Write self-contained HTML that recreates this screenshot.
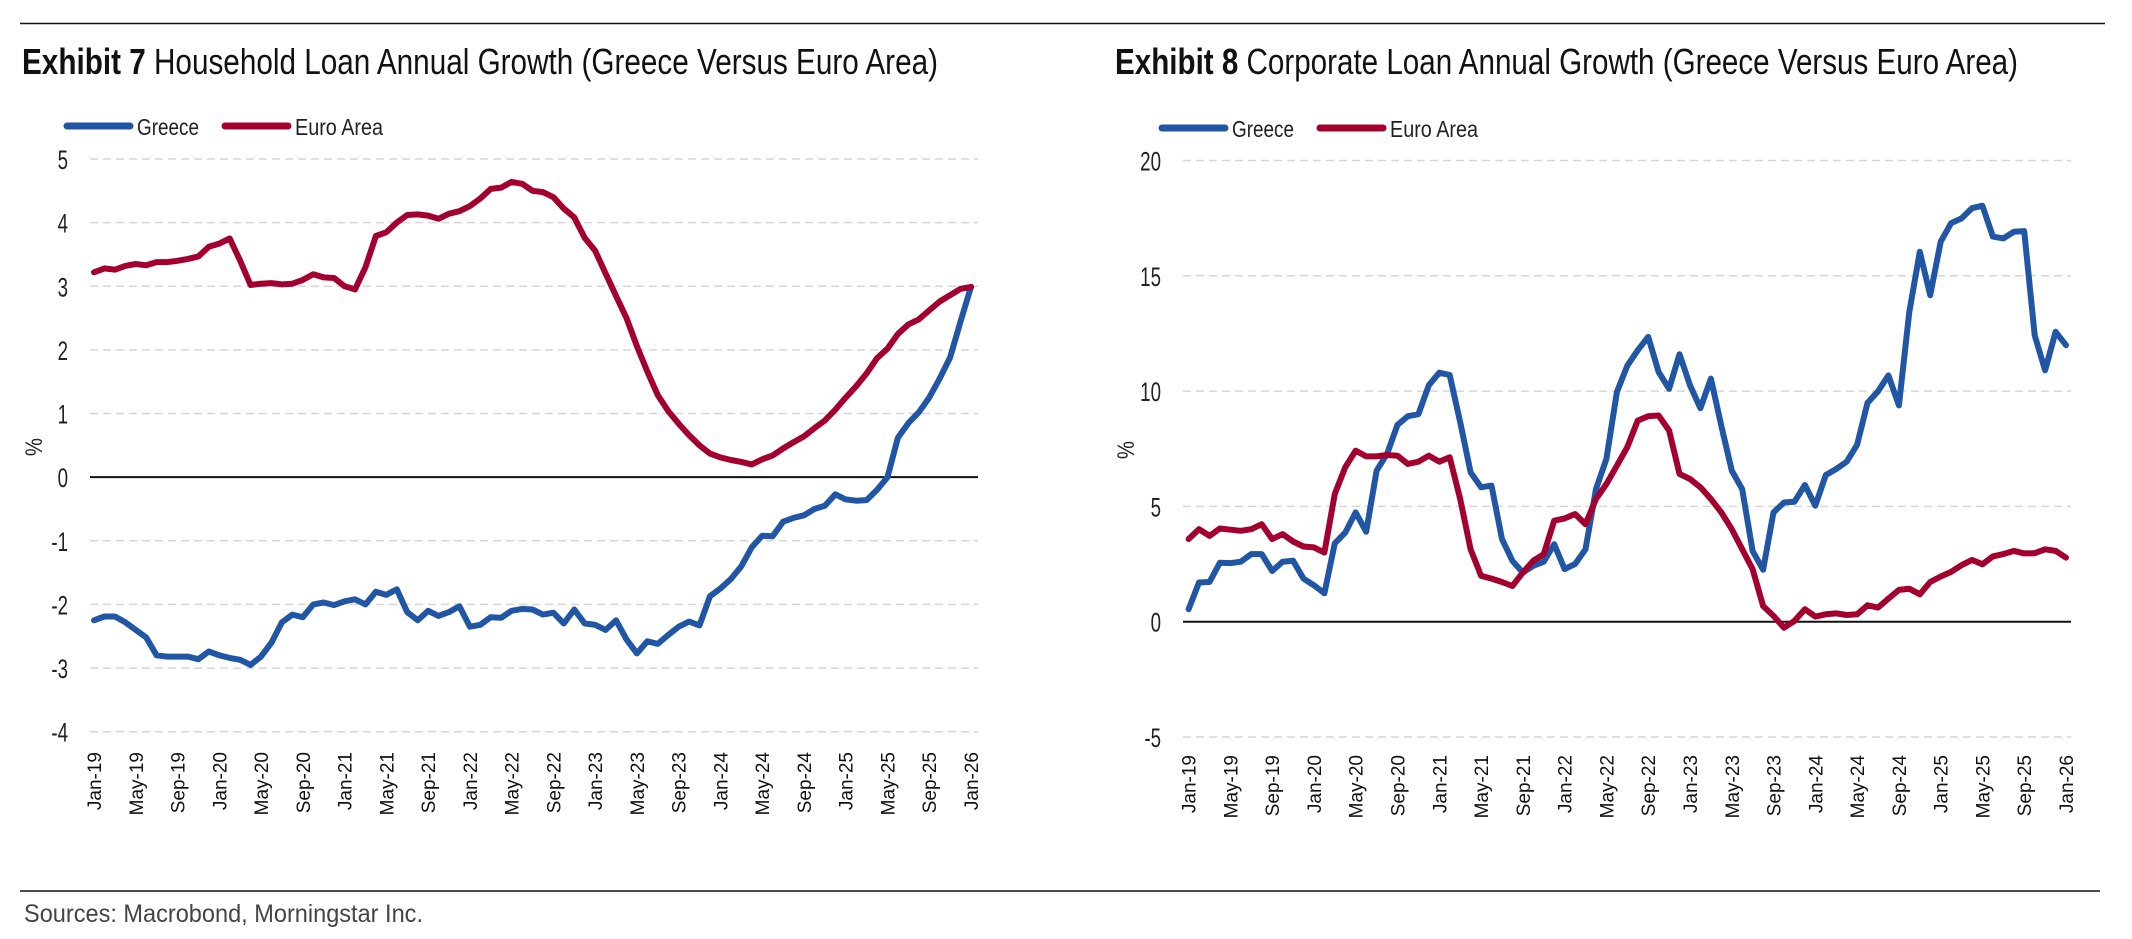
<!DOCTYPE html>
<html><head><meta charset="utf-8"><style>
html,body{margin:0;padding:0;background:#fff;}
svg{display:block;}
.cond{font-family:"Liberation Sans Narrow","Liberation Sans",sans-serif;}
.tick{font-family:"Liberation Sans Narrow","Liberation Sans",sans-serif;font-size:24px;fill:#222;}
.xl{font-family:"Liberation Sans",Arial,sans-serif;font-size:19px;fill:#111;}
</style></head><body>
<svg id="root" width="2132" height="939" viewBox="0 0 2132 939" xmlns="http://www.w3.org/2000/svg">
<line x1="20" y1="23.5" x2="2105" y2="23.5" stroke="#111" stroke-width="1.5"/>
<line x1="20" y1="891" x2="2100" y2="891" stroke="#111" stroke-width="1.5"/>
<text x="22" y="74" font-size="36" class="cond" textLength="916" lengthAdjust="spacingAndGlyphs" fill="#111"><tspan font-weight="bold">Exhibit 7</tspan> Household Loan Annual Growth (Greece Versus Euro Area)</text>
<text x="1115" y="74" font-size="36" class="cond" textLength="903" lengthAdjust="spacingAndGlyphs" fill="#111"><tspan font-weight="bold">Exhibit 8</tspan> Corporate Loan Annual Growth (Greece Versus Euro Area)</text>
<text x="24" y="922" font-size="25" class="cond" textLength="399" lengthAdjust="spacingAndGlyphs" fill="#444">Sources: Macrobond, Morningstar Inc.</text>
<g id="c1"></g>
<g id="c2"></g>
</svg>
<script>
const months = ["Jan-19","May-19","Sep-19","Jan-20","May-20","Sep-20","Jan-21","May-21","Sep-21","Jan-22","May-22","Sep-22","Jan-23","May-23","Sep-23","Jan-24","May-24","Sep-24","Jan-25","May-25","Sep-25","Jan-26"];
const hhTicks = [5,4,3,2,1,0,-1,-2,-3,-4];
const corpTicks = [20,15,10,5,0,-5];
const hhGreece = [-2.25,-2.19,-2.19,-2.28,-2.40,-2.52,-2.80,-2.82,-2.82,-2.82,-2.86,-2.74,
-2.80,-2.84,-2.87,-2.95,-2.82,-2.60,-2.28,-2.16,-2.20,-2.00,-1.97,-2.01,
-1.95,-1.92,-2.00,-1.80,-1.85,-1.76,-2.12,-2.25,-2.10,-2.18,-2.12,-2.03,
-2.35,-2.32,-2.20,-2.21,-2.10,-2.07,-2.08,-2.16,-2.13,-2.30,-2.08,-2.30,
-2.32,-2.40,-2.25,-2.55,-2.77,-2.58,-2.62,-2.48,-2.35,-2.27,-2.33,-1.87,
-1.75,-1.60,-1.40,-1.10,-0.92,-0.93,-0.70,-0.64,-0.60,-0.50,-0.45,-0.27,
-0.35,-0.37,-0.36,-0.20,0.0,0.62,0.85,1.02,1.25,1.55,1.88,2.45,2.99];
const hhEuro = [3.22,3.28,3.26,3.32,3.35,3.33,3.38,3.38,3.40,3.43,3.47,3.62,
3.67,3.75,3.40,3.02,3.04,3.05,3.03,3.04,3.10,3.19,3.14,3.13,
3.00,2.95,3.30,3.79,3.85,4.00,4.12,4.13,4.11,4.06,4.14,4.18,
4.26,4.38,4.53,4.55,4.64,4.61,4.50,4.48,4.40,4.22,4.08,3.76,
3.56,3.20,2.85,2.50,2.06,1.66,1.29,1.04,0.84,0.66,0.50,0.37,
0.31,0.27,0.24,0.20,0.28,0.34,0.45,0.55,0.64,0.77,0.89,1.06,
1.25,1.43,1.63,1.87,2.02,2.25,2.40,2.48,2.62,2.76,2.86,2.96,2.99];
const corpGreece = [0.54,1.7,1.72,2.56,2.54,2.6,2.93,2.93,2.2,2.6,2.64,1.87,
1.58,1.23,3.4,3.87,4.74,3.9,6.55,7.28,8.54,8.91,9.0,10.25,
10.8,10.7,8.65,6.48,5.83,5.9,3.58,2.64,2.13,2.42,2.6,3.36,
2.28,2.5,3.14,5.75,7.06,9.96,11.1,11.77,12.35,10.83,10.1,11.6,
10.25,9.26,10.54,8.5,6.55,5.75,3.07,2.25,4.74,5.17,5.2,5.93,
5.03,6.36,6.62,6.94,7.67,9.49,9.99,10.68,9.38,13.43,16.04,14.16,
16.48,17.28,17.49,17.93,18.04,16.70,16.62,16.91,16.94,12.42,10.9,12.57,11.99];
const corpEuro = [3.58,4.01,3.72,4.04,3.99,3.94,4.01,4.23,3.58,3.80,3.48,3.26,
3.22,3.0,5.54,6.7,7.42,7.17,7.17,7.23,7.2,6.84,6.94,7.2,
6.94,7.13,5.32,3.14,1.99,1.87,1.72,1.55,2.13,2.64,2.93,4.38,
4.48,4.67,4.23,5.32,5.97,6.77,7.57,8.72,8.91,8.94,8.29,6.41,
6.19,5.83,5.32,4.74,4.01,3.14,2.28,0.68,0.25,-0.26,0.03,0.54,
0.22,0.32,0.36,0.29,0.32,0.71,0.61,1.0,1.38,1.43,1.19,1.72,
1.96,2.16,2.45,2.68,2.49,2.83,2.93,3.07,2.96,2.97,3.14,3.07,2.78];

const NS = "http://www.w3.org/2000/svg";
const BLUE = "#2156a5", RED = "#a3002f";
function mk(tag, attrs, parent){const e=document.createElementNS(NS,tag);for(const k in attrs)e.setAttribute(k,attrs[k]);parent.appendChild(e);return e;}

function drawChart(g, cfg){
  const {x0,x1,gx0,gx1,yTop,yBot,vTop,vBot,ticks,greece,euro,tickRight,labelTop,legX,legY,pctX,pctY} = cfg;
  const n = greece.length;
  const xs = i => x0 + (x1-x0)*i/(n-1);
  const ys = v => yTop + (vTop - v)*(yBot-yTop)/(vTop-vBot);
  ticks.forEach(t=>{
    const y = ys(t);
    const ln = mk("line",{x1:gx0,x2:gx1,y1:y,y2:y,stroke:t===0?"#111":"#d6d6d6","stroke-width":t===0?2:1.5,"stroke-dasharray":t===0?"none":"8 5"},g);
    
    
    const tx = mk("text",{x:0,y:0,"text-anchor":"end",class:"tick",transform:`translate(${tickRight},${y+10}) scale(0.78,1.12)`},g);
    tx.textContent = t;
    
    
  });
  months.forEach((m,k)=>{
    const x = xs(k*4);
    const tx = mk("text",{x:0,y:0,"text-anchor":"end",class:"xl",transform:`translate(${x+7},${labelTop}) rotate(-90)`},g);
    tx.textContent = m;
    
    
  });
  const pct = mk("text",{x:0,y:0,class:"tick","text-anchor":"middle",transform:`translate(${pctX},${pctY}) rotate(-90) scale(0.85,1)`},g);
  pct.textContent = "%";
  
  
  [[greece,BLUE,'greece-line'],[euro,RED,'euro-area-line']].forEach(([arr,col,name])=>{
    const d = arr.map((v,i)=>(i?"L":"M")+xs(i).toFixed(1)+","+ys(v).toFixed(1)).join(" ");
    const p = mk("path",{d:d,fill:"none",stroke:col,"stroke-width":6,"stroke-linejoin":"round","stroke-linecap":"round"},g);
    
    
  });
  [[legX,BLUE,"Greece",62],[legX+158,RED,"Euro Area",88]].forEach(([lx,col,lab,w])=>{
    const le = mk("g",{},g);
    
    
    mk("line",{x1:lx,x2:lx+63,y1:legY,y2:legY,stroke:col,"stroke-width":7,"stroke-linecap":"round"},le);
    const t = mk("text",{x:lx+70,y:legY+9,class:"cond","font-size":23,fill:"#222",textLength:w,lengthAdjust:"spacingAndGlyphs"},le);
    t.textContent = lab;
  });
}
drawChart(document.getElementById("c1"),{x0:94,x1:971,gx0:90,gx1:978,yTop:159,yBot:731.7,vTop:5,vBot:-4,ticks:hhTicks,greece:hhGreece,euro:hhEuro,tickRight:68,labelTop:752,legX:67,legY:126,pctX:42,pctY:447});
drawChart(document.getElementById("c2"),{x0:1188.6,x1:2066,gx0:1183,gx1:2071,yTop:160.5,yBot:737,vTop:20,vBot:-5,ticks:corpTicks,greece:corpGreece,euro:corpEuro,tickRight:1161,labelTop:755,legX:1162,legY:128,pctX:1134,pctY:450});
</script>
</body></html>
